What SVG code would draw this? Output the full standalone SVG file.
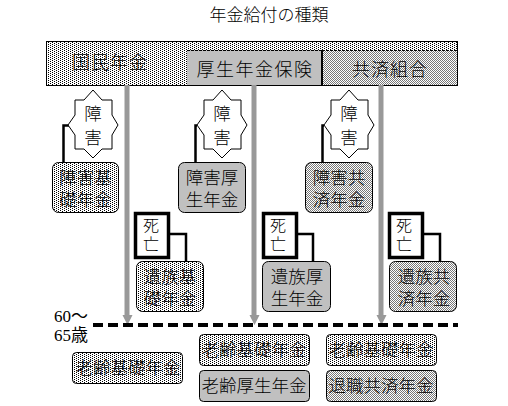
<svg xmlns="http://www.w3.org/2000/svg" width="508" height="406" viewBox="0 0 508 406">
<style>
text{font-family:"Noto Sans CJK JP","Liberation Sans",sans-serif;font-weight:300;fill:#000;text-anchor:middle}
.t{font-size:17.5px}
.d{font-size:16px}
.l{font-family:"Liberation Serif","Noto Sans CJK JP",serif;font-size:17px;text-anchor:start;font-weight:400}
.b{stroke:#000;stroke-width:1}
.dot{fill:url(#dots)}
.gray{fill:#c0c0c0}
.chk{fill:url(#chk)}
.star{fill:#fff;stroke:#000;stroke-width:1}
.death{fill:#fff;stroke:#000;stroke-width:3.5}
.conn{fill:none;stroke:#000;stroke-width:2.5}
.arrow{fill:none;stroke:#999;stroke-width:5}
.head{fill:#999}
</style>
<defs>
<pattern id="dots" width="4" height="2" patternUnits="userSpaceOnUse"><rect width="4" height="2" fill="#fff"/><rect width="1" height="1" fill="#000"/><rect x="2" y="1" width="1" height="1" fill="#000"/></pattern>
<pattern id="chk" width="2" height="2" patternUnits="userSpaceOnUse"><rect width="2" height="2" fill="#fff"/><rect width="1" height="1" fill="#777"/><rect x="1" y="1" width="1" height="1" fill="#777"/></pattern>
<polygon id="s" points="0,-35 9,-25 19,-25 19,-10 25,0 19,10 19,24 9,24 0,33 -9,24 -18,24 -18,10 -25,0 -18,-10 -18,-25 -9,-25"/>
</defs>

<text x="269" y="21" style="font-size:17px">年金給付の種類</text>

<g id="kokumin"><rect class="b dot" x="46.500" y="41.500" width="411" height="44"/><text x="110" y="69" style="font-size:18px;letter-spacing:1px">国民年金</text></g>
<g id="kosei"><rect class="gray" x="187" y="50" width="135" height="35"/><path d="M187 50.500H322M187 85.500H322" stroke="#000" stroke-dasharray="3 1"/><text x="255" y="76" style="font-size:18px;letter-spacing:1.500px">厚生年金保険</text></g>
<g id="kyosai"><rect class="chk" x="322" y="50" width="135" height="35"/><path d="M322 50.500H457M322 85.500H457" stroke="#000" stroke-dasharray="3 1"/><path d="M322 50V85" stroke="#000" stroke-width="2"/><text x="390" y="76" style="font-size:18px;letter-spacing:1px">共済組合</text></g>

<g id="connectors">
<path class="arrow" d="M127 85V316M254 85V316M381 85V316"/>
<path class="head" d="M122.500 315H132.500L127.500 325ZM249.500 315H259.500L254.500 325ZM376.500 315H386.500L381.500 325Z"/>
<path d="M93 325H458" stroke="#000" stroke-width="4" stroke-dasharray="10 5"/>
<path class="conn" d="M69 125.500H63.500V163M197 125.500H195.500V163M324 125.500H322.500V163"/>
<path class="conn" d="M169 234H186V261M297 234H313V261M423 234H440V261"/>
</g>

<g id="star1"><use href="#s" class="star" x="93" y="125"/><text class="t" x="93" y="120">障</text><text class="t" x="93" y="144">害</text></g>
<g id="star2"><use href="#s" class="star" x="222" y="125"/><text class="t" x="222" y="120">障</text><text class="t" x="222" y="144">害</text></g>
<g id="star3"><use href="#s" class="star" x="349" y="125"/><text class="t" x="349" y="120">障</text><text class="t" x="349" y="144">害</text></g>

<g id="disab1"><rect class="b dot" x="52.500" y="162.500" width="66" height="50" rx="6"/><text class="t" x="85.500" y="184">障害基</text><text class="t" x="85.500" y="206">礎年金</text></g>
<g id="disab2"><rect class="b gray" x="178.500" y="162.500" width="67" height="50" rx="6"/><text class="t" x="212" y="184">障害厚</text><text class="t" x="212" y="206">生年金</text></g>
<g id="disab3"><rect class="b chk" x="305.500" y="162.500" width="67" height="50" rx="6"/><text class="t" x="339" y="184">障害共</text><text class="t" x="339" y="206">済年金</text></g>

<g id="death1"><rect class="death" x="135.500" y="213.500" width="33" height="44"/><text class="d" x="151" y="231">死</text><text class="d" x="151" y="250">亡</text></g>
<g id="death2"><rect class="death" x="263.500" y="213.500" width="33" height="44"/><text class="d" x="278" y="231">死</text><text class="d" x="278" y="250">亡</text></g>
<g id="death3"><rect class="death" x="389.500" y="213.500" width="33" height="44"/><text class="d" x="404" y="231">死</text><text class="d" x="404" y="250">亡</text></g>

<g id="surv1"><rect class="b dot" x="136.500" y="261.500" width="67" height="50" rx="6"/><text class="t" x="170" y="283">遺族基</text><text class="t" x="170" y="305">礎年金</text></g>
<g id="surv2"><rect class="b gray" x="262.500" y="261.500" width="68" height="50" rx="6"/><text class="t" x="297" y="283">遺族厚</text><text class="t" x="297" y="305">生年金</text></g>
<g id="surv3"><rect class="b chk" x="389.500" y="261.500" width="67" height="50" rx="6"/><text class="t" x="424" y="283">遺族共</text><text class="t" x="424" y="305">済年金</text></g>

<text class="l" x="54" y="322">60～</text>
<text class="l" x="54" y="341">65歳</text>

<g id="old1"><rect class="b dot" x="72.500" y="352.500" width="110" height="31" rx="4"/><text class="t" x="128" y="374">老齢基礎年金</text></g>
<g id="old2"><rect class="b dot" x="199.500" y="334.500" width="110" height="31" rx="4"/><text class="t" x="254" y="356">老齢基礎年金</text></g>
<g id="old3"><rect class="b gray" x="199.500" y="370.500" width="110" height="31" rx="4"/><text class="t" x="254" y="392">老齢厚生年金</text></g>
<g id="old4"><rect class="b dot" x="326.500" y="334.500" width="110" height="31" rx="4"/><text class="t" x="381" y="356">老齢基礎年金</text></g>
<g id="old5"><rect class="b chk" x="326.500" y="370.500" width="110" height="31" rx="4"/><text class="t" x="381" y="392">退職共済年金</text></g>
</svg>
